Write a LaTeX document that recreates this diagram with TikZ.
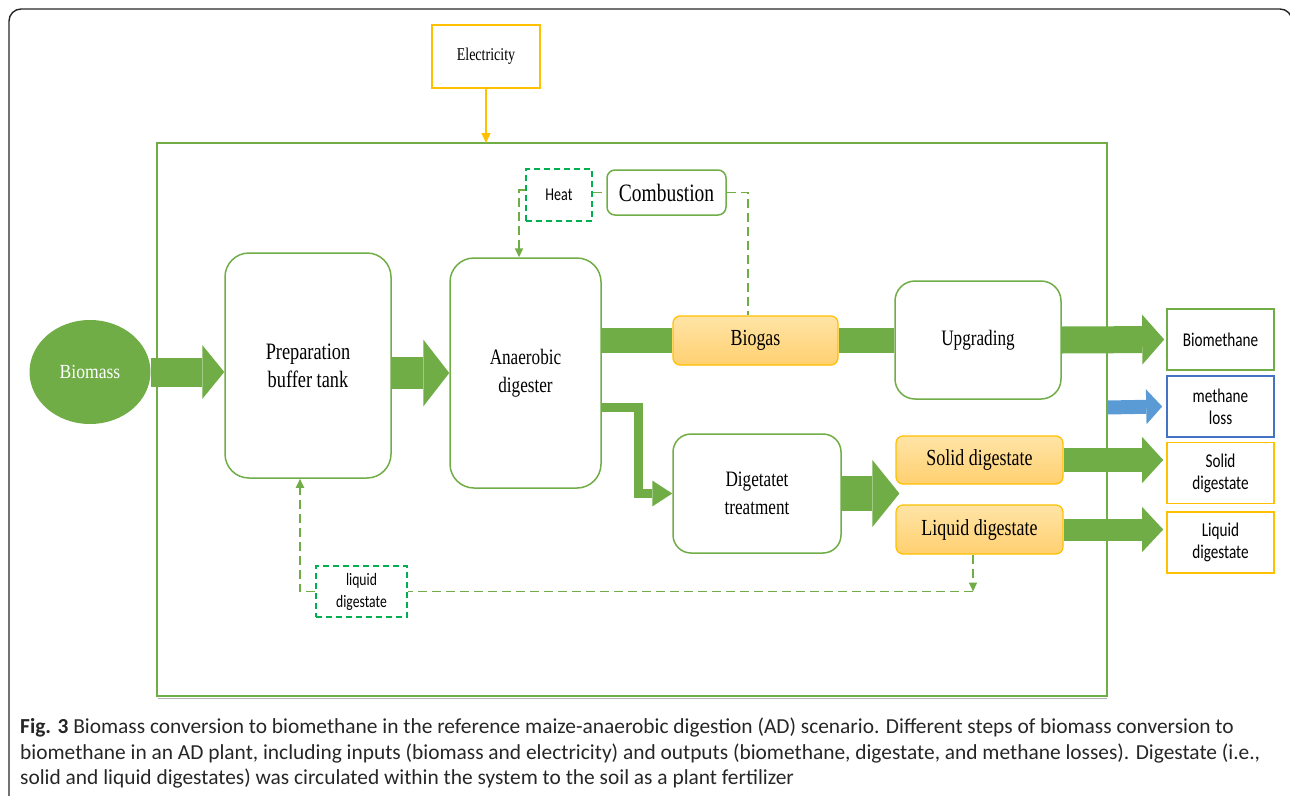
\documentclass[tikz,border=0pt]{standalone}
\usepackage{fontspec}
\setmainfont{Liberation Serif}
\newfontfamily\dserif[FakeStretch=0.78]{Liberation Serif}
\newfontfamily\bserif[FakeStretch=0.88]{Liberation Serif}
\newfontfamily\dsans[FakeStretch=0.78]{Carlito}
\newfontfamily\capsans{Carlito}
\usepackage{tikz}
\usetikzlibrary{arrows.meta}
\usetikzlibrary{shapes.geometric}
\usetikzlibrary{positioning}
\definecolor{agreen}{RGB}{112,173,71}
\definecolor{dgreen}{RGB}{0,176,80}
\definecolor{ayellow}{RGB}{255,192,0}
\definecolor{gastop}{RGB}{255,228,166}
\definecolor{gasbot}{RGB}{255,208,112}
\definecolor{lblue}{RGB}{68,114,196}
\definecolor{ablue}{RGB}{91,155,213}

\begin{document}
\begin{tikzpicture}[x=1pt,y=-1pt,
    proc/.style={draw=agreen, line width=1.5pt, fill=white, rounded corners=#1, align=center, inner sep=0pt, font=\dserif\fontsize{22}{28}\selectfont},
    proc/.default=24pt,
    gas/.style={draw=ayellow, line width=1.2pt, rounded corners=7pt, top color=gastop, bottom color=gasbot, inner sep=0pt, minimum width=167pt, minimum height=48pt, font=\dserif\fontsize{23}{28}\selectfont}]
    \tikzset{outbox/.style={draw=#1, line width=1.6pt, fill=white, align=center, inner sep=0pt, minimum width=107pt, minimum height=61pt, font=\dsans\fontsize{19.5}{22}\selectfont}}
    \tikzset{dbox/.style={draw=dgreen, line width=1.9pt, dash pattern=on 6pt off 4pt, align=center, inner sep=0pt, font=\dsans\fontsize{17.5}{22}\selectfont}}
    \tikzset{dline/.style={draw=agreen, line width=1.9pt, dash pattern=on 9pt off 5pt},
    dtip/.style={-{Triangle[length=9pt,width=8pt]}}}
    %fat arrows: shaft, head width, head length
    \tikzset{fat/.style n args={3}{draw=agreen, line width=#1, -{Triangle[length=#3, width=#2, line width=0pt]}},
    band/.style={draw=agreen, line width=#1}}
    \useasboundingbox (0,0) rectangle (1290,795);
    \draw[line width=1.4pt, black!85, rounded corners=12pt] (9,800) -- (9,9) -- (1292,9) -- (1292,800);

    \node[draw=ayellow, line width=1.5pt, minimum width=108pt, minimum height=63pt, font=\dserif\fontsize{18}{20}\selectfont] (elec) at (486,56.5) {Electricity};
    \node[ellipse, fill=agreen, minimum width=121pt, minimum height=104pt, inner sep=0pt, text=white, font=\bserif\fontsize{20}{22}\selectfont] (bio) at (90,372) {Biomass};

    \node[proc, minimum width=166pt, minimum height=225pt, font=\dserif\fontsize{23.5}{28}\selectfont] (prep) at (308,365.5) {Preparation\\buffer tank};
    \node[proc, minimum width=151pt, minimum height=230pt] (anaer) at (525.5,373) {Anaerobic\\digester};
    \node[proc=20pt, minimum width=166pt, minimum height=118pt] (upg) at (978,340) {Upgrading};
    \node[proc=18pt, minimum width=168pt, minimum height=119pt] (dig) at (757,493.5) {Digetatet\\treatment};
    \node[proc=8pt, minimum width=119pt, minimum height=45pt, font=\dserif\fontsize{25}{28}\selectfont] (comb) at (666.5,192.5) {Combustion};
    \node[dbox, minimum width=66pt, minimum height=52pt, font=\dsans\fontsize{18}{22}\selectfont] (heat) at (559,195) {Heat};
    \node[dbox, minimum width=91pt, minimum height=51pt] (ldig) at (361.5,591.5) {liquid\\digestate};

    \node[gas, minimum width=165pt, minimum height=49pt] (biogas) at (755.5,340.5) {Biogas};
    \node[gas] (sol) at (979.5,460) {Solid digestate};
    \node[gas, minimum height=49pt] (liq) at (979.5,529.5) {Liquid digestate};

    \foreach \n/\y/\c/\txt in {meth/339.5/agreen/Biomethane, loss/406.5/lblue/methane\\loss, solo/473/ayellow/Solid\\digestate, liqo/542.5/ayellow/Liquid\\digestate}
    \node[outbox=\c] (\n) at (1220.5,\y) {\txt};

    \coordinate (etop) at (486,143);
    \coordinate (lossin) at (1107,407.5);

    \draw[fat={29pt}{54pt}{22pt}] (bio.east) -- (prep.west |- bio.east);
    \draw[fat={32pt}{67pt}{26pt}] (prep.east |- anaer.west) -- (anaer.west);
    \draw[band=25pt] (anaer.east |- biogas.west) -- (biogas.west);
    \draw[band=25pt] (biogas.east) -- (upg.west |- biogas.east);
    \draw[fat={27pt}{50pt}{22pt}] (upg.east) -- ([xshift=-2pt]meth.west);
    \draw[fat={14pt}{35pt}{16pt}, draw=ablue] (lossin) -- ([xshift=-4pt]loss.west);
    \draw[fat={24pt}{46pt}{21pt}] (sol.east) -- ([xshift=-3pt]sol.east -| solo.west);
    \draw[fat={22pt}{45pt}{21pt}] (liq.east) -- ([xshift=-3pt]liq.east -| liqo.west);
    \draw[fat={35pt}{67pt}{27pt}] (dig.east) -- ([xshift=4pt]dig.east -| sol.west);
    \draw[fat={9pt}{26pt}{20pt}] ([yshift=-34pt]anaer.east) -- ++(37,0) |- (dig.west);

    \draw[agreen, line width=1.6pt] (157,143) rectangle (1107,696);
    \draw[black!30, line width=0.8pt] (158,698) -- (1107,698);
    \draw[ayellow, line width=1.3pt, -{Triangle[length=10pt,width=9pt]}] (elec.south) -- (etop);

    \draw[dline, dtip] ([yshift=5pt]heat.west) -| ([xshift=-6.5pt]anaer.north);
    \draw[dline] (heat.east |- comb.west) -- (comb.west);
    \draw[dline] (comb.east) -| ([xshift=-7.5pt]biogas.north);
    \draw[dline, dtip] ([xshift=-6.5pt]liq.south) -- ([xshift=-6.5pt]liq.south |- ldig.east) coordinate (fb);
    \draw[dline] (fb) -- (ldig.east);
    \draw[dline, dtip] (ldig.west) -| ([xshift=-8pt]prep.south);

    \node[anchor=north west, align=left, inner sep=0pt, text=black!85, font=\capsans\fontsize{21.4}{25.5}\selectfont] (cap) at (20,718) {\textbf{Fig. 3} Biomass conversion to biomethane in the reference maize-anaerobic digestion (AD) scenario. Different steps of biomass conversion to\\biomethane in an AD plant, including inputs (biomass and electricity) and outputs (biomethane, digestate, and methane losses). Digestate (i.e.,\\solid and liquid digestates) was circulated within the system to the soil as a plant fertilizer};
\end{tikzpicture}
\end{document}
